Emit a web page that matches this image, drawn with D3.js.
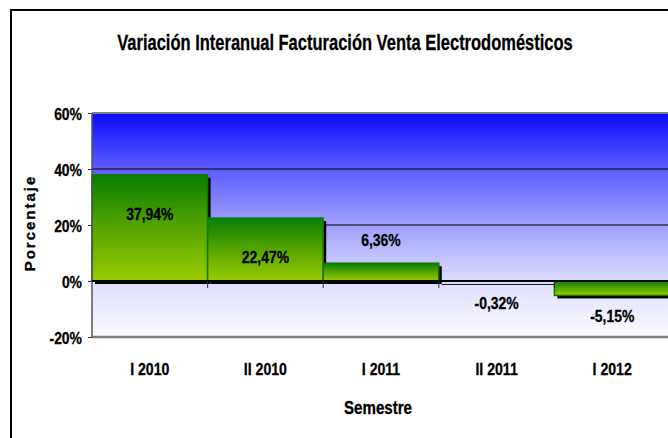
<!DOCTYPE html>
<html>
<head>
    <meta charset="utf-8">
    <title>Variación Interanual</title>
    <script src="https://d3js.org/d3.v7.min.js"></script>
    <style>
        body { margin: 0; background: #fff; }
        text { font-family: "Liberation Sans", Arial, sans-serif; font-weight: bold; fill: #000; stroke: #000; stroke-width: 0.3px; }
    </style>
</head>
<body>
<svg width="668" height="438"></svg>
<script>
    // datos
    var categorias = ["I 2010", "II 2010", "I 2011", "II 2011", "I 2012"];
    var variacion = [37.94, 22.47, 6.36, -0.32, -5.15];
    var etiquetas = ["37,94%", "22,47%", "6,36%", "-0,32%", "-5,15%"];
    var ticksY = [-20, 0, 20, 40, 60];

    var svg = d3.select("svg");
    var pLeft = 92, pRight = 670, pTop = 113, pBottom = 337;

    var x = d3.scaleBand().domain(categorias).range([pLeft, pRight]).padding(0);
    var y = d3.scaleLinear().domain([-20, 60]).range([pBottom, pTop]);

    // simula una fuente estrecha (Arial Narrow) comprimiendo en horizontal
    function narrow(sel, f) {
        sel.each(function () {
            var t = d3.select(this);
            var tx = +t.attr("x"), ty = +t.attr("y");
            t.attr("x", 0).attr("y", 0)
                .attr("transform", "translate(" + tx + "," + ty + ") scale(" + f + ",1)");
        });
    }

    var defs = svg.append("defs");
    var bg = defs.append("linearGradient").attr("id", "bg")
        .attr("x1", 0).attr("y1", 0).attr("x2", 0).attr("y2", 1);
    [[0, "#0a0aff"], [0.25, "#5c5cff"], [0.5, "#a0a0ff"], [0.75, "#dcdcff"], [1, "#fcfcff"]].forEach(function (s) {
        bg.append("stop").attr("offset", s[0]).attr("stop-color", s[1]);
    });
    var bar = defs.append("linearGradient").attr("id", "bar")
        .attr("x1", 0).attr("y1", 0).attr("x2", 0).attr("y2", 1);
    [[0, "#0a7d00"], [0.5, "#55a500"], [1, "#9acb00"]].forEach(function (s) {
        bar.append("stop").attr("offset", s[0]).attr("stop-color", s[1]);
    });

    // marco del gráfico
    svg.append("rect")
        .attr("x", 11).attr("y", 10).attr("width", 700).attr("height", 460)
        .attr("fill", "#fff").attr("stroke", "#000").attr("stroke-width", 2);

    // fondo del área de trazado
    svg.append("rect")
        .attr("x", pLeft).attr("y", pTop)
        .attr("width", pRight - pLeft).attr("height", pBottom - pTop)
        .attr("fill", "url(#bg)");

    // líneas de división
    svg.append("g").selectAll("line")
        .data([20, 40])
        .enter().append("line")
        .attr("x1", pLeft).attr("x2", pRight)
        .attr("y1", function (d) { return y(d); })
        .attr("y2", function (d) { return y(d); })
        .attr("stroke", "#000").attr("stroke-width", 1);

    // sombras
    svg.append("g").selectAll("rect")
        .data(variacion)
        .enter().append("rect")
        .attr("x", function (d, i) { return x(categorias[i]) + 3; })
        .attr("y", function (d) { return Math.min(y(d), y(0)) + 3; })
        .attr("width", x.bandwidth())
        .attr("height", function (d) { return Math.abs(y(d) - y(0)); })
        .attr("fill", "#000");

    // barras
    svg.append("g").selectAll("rect")
        .data(variacion)
        .enter().append("rect")
        .attr("x", function (d, i) { return x(categorias[i]); })
        .attr("y", function (d) { return Math.min(y(d), y(0)); })
        .attr("width", x.bandwidth())
        .attr("height", function (d) { return Math.abs(y(d) - y(0)); })
        .attr("fill", "url(#bar)")
        .attr("stroke", "#0b7a00")
        .attr("stroke-width", function (d) { return Math.abs(y(d) - y(0)) > 3 ? 1.5 : 0; });

    // eje Y
    var yAxis = svg.append("g")
        .attr("transform", "translate(" + pLeft + ",0)")
        .call(d3.axisLeft(y).tickValues(ticksY).tickSize(4).tickPadding(6)
            .tickFormat(function (d) { return d + "%"; }));
    yAxis.select(".domain").remove();
    yAxis.selectAll(".tick line").attr("stroke", "#333");
    yAxis.selectAll("text").style("font-size", "17px").attr("dy", "0.36em")
        .attr("x", -10 / 0.82).attr("transform", "scale(0.82,1)");

    // bordes del área
    svg.append("line").attr("x1", pLeft).attr("x2", pRight).attr("y1", pTop).attr("y2", pTop)
        .attr("stroke", "#808080").attr("stroke-width", 2);
    svg.append("line").attr("x1", pLeft).attr("x2", pRight).attr("y1", pBottom).attr("y2", pBottom)
        .attr("stroke", "#808080").attr("stroke-width", 2.5);
    svg.append("line").attr("x1", pLeft).attr("x2", pLeft).attr("y1", pTop).attr("y2", pBottom)
        .attr("stroke", "#555").attr("stroke-width", 1.5);

    // eje X en 0%
    svg.append("line").attr("x1", pLeft).attr("x2", pRight).attr("y1", y(0)).attr("y2", y(0))
        .attr("stroke", "#000").attr("stroke-width", 2);
    svg.append("g").selectAll("line")
        .data(categorias)
        .enter().append("line")
        .attr("x1", function (d) { return x(d) + x.bandwidth(); })
        .attr("x2", function (d) { return x(d) + x.bandwidth(); })
        .attr("y1", y(0)).attr("y2", y(0) + 7)
        .attr("stroke", "#333").attr("stroke-width", 1);

    // etiquetas de categorías
    svg.append("g").selectAll("text")
        .data(categorias)
        .enter().append("text")
        .attr("x", function (d) { return x(d) + x.bandwidth() / 2; })
        .attr("y", 375)
        .attr("text-anchor", "middle")
        .style("font-size", "17px")
        .text(function (d) { return d; })
        .call(narrow, 0.83);

    // etiquetas de datos
    svg.append("g").selectAll("text")
        .data(variacion)
        .enter().append("text")
        .attr("x", function (d, i) { return x(categorias[i]) + x.bandwidth() / 2; })
        .attr("y", function (d) {
            if (d > 15) return y(d) + 45;
            if (d >= 0) return y(d) - 17;
            return y(d) + 27;
        })
        .attr("text-anchor", "middle")
        .style("font-size", "17px")
        .text(function (d, i) { return etiquetas[i]; })
        .call(narrow, 0.82);

    // títulos
    svg.append("text")
        .attr("x", 345).attr("y", 50)
        .attr("text-anchor", "middle")
        .style("font-size", "22px")
        .text("Variación Interanual Facturación Venta Electrodomésticos")
        .call(narrow, 0.75);

    svg.append("text")
        .attr("x", 378).attr("y", 414)
        .attr("text-anchor", "middle")
        .style("font-size", "18px")
        .text("Semestre")
        .call(narrow, 0.84);

    svg.append("text")
        .attr("transform", "translate(35,223) rotate(-90)")
        .attr("text-anchor", "middle")
        .style("font-size", "15px")
        .style("letter-spacing", "2px")
        .text("Porcentaje");
</script>
</body>
</html>
